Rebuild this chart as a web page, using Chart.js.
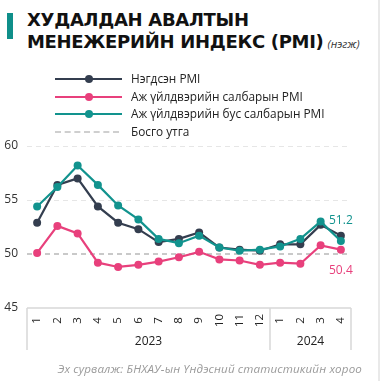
<!DOCTYPE html>
<html>
<head>
<meta charset="utf-8">
<script src="https://cdn.jsdelivr.net/npm/chart.js@4"></script>
<style>
  html, body { margin: 0; padding: 0; background: #fff; }
  body { width: 383px; height: 381px; position: relative; overflow: hidden; font-family: "Open Sans", sans-serif; }
  .frame { position: absolute; right: 3px; top: 0; bottom: 0; width: 2px; background: #e9e9e9; }
  .bar { position: absolute; left: 7px; top: 13px; width: 6px; height: 26px; background: #0f8f8a; }
  .title { position: absolute; left: 27px; top: 9px; font-family: "DejaVu Sans", sans-serif; font-weight: bold; font-size: 18px; line-height: 22px; color: #111; letter-spacing: -0.3px; white-space: nowrap; }
  .title .unit { font-family: "Open Sans", sans-serif; font-weight: normal; font-style: italic; font-size: 11px; color: #333; letter-spacing: 0; margin-left: 4px; }
  .legend { position: absolute; left: 55px; top: 70px; }
  .row { position: relative; height: 17.6px; }
  .row .ln { position: absolute; left: 0; top: 8px; width: 67px; height: 2px; }
  .row .dot { position: absolute; left: 30px; top: 5px; width: 8px; height: 8px; border-radius: 50%; }
  .row .dash { position: absolute; left: 0; top: 8px; width: 64px; border-top: 2px dashed #cfcfcf; }
  .row span { position: absolute; left: 76px; top: 0; font-size: 11.8px; line-height: 17px; color: #222; white-space: nowrap; }
  .source { position: absolute; right: 21px; top: 361px; font-size: 11.6px; letter-spacing: 0.15px; font-style: italic; color: #9a9a9a; white-space: nowrap; }
  .chart { position: absolute; left: 0; top: 0; width: 383px; height: 381px; }
</style>
</head>
<body>
<div class="frame"></div>
<div class="bar"></div>
<div class="title">ХУДАЛДАН АВАЛТЫН<br>МЕНЕЖЕРИЙН ИНДЕКС (PMI)<span class="unit">(нэгж)</span></div>
<div class="chart"><canvas id="pmi-chart"></canvas></div>
<div class="legend" id="legend"></div>
<div class="source">Эх сурвалж: БНХАУ-ын Үндэсний статистикийн хороо</div>

<script>
// Months, grouped by year underneath the axis
const months = ['1', '2', '3', '4', '5', '6', '7', '8', '9', '10', '11', '12', '1', '2', '3', '4'];
const years = [
    { label: '2023', from: 0, to: 11 },
    { label: '2024', from: 12, to: 15 }
];

// PMI series
const composite = [52.9, 56.4, 57.0, 54.4, 52.9, 52.3, 51.1, 51.4, 52.0, 50.6, 50.4, 50.3, 50.9, 50.9, 52.7, 51.7];
const manufacturing = [50.1, 52.6, 51.9, 49.2, 48.8, 49.0, 49.3, 49.7, 50.2, 49.5, 49.4, 49.0, 49.2, 49.1, 50.8, 50.4];
const nonManufacturing = [54.4, 56.2, 58.2, 56.4, 54.5, 53.2, 51.4, 51.0, 51.7, 50.6, 50.3, 50.4, 50.7, 51.4, 53.0, 51.2];
const threshold = 50;

const yTicks = [45, 50, 55, 60];

const colors = {
    composite: '#343e4f',
    manufacturing: '#e8407c',
    nonManufacturing: '#12938e',
    threshold: '#c9c9c9',
    grid: '#e6e6e6',
    box: '#d8d8d8',
    text: '#222'
};

// HTML legend
const legendItems = [
    { text: 'Нэгдсэн PMI', color: colors.composite },
    { text: 'Аж үйлдвэрийн салбарын PMI', color: colors.manufacturing },
    { text: 'Аж үйлдвэрийн бус салбарын PMI', color: colors.nonManufacturing },
    { text: 'Босго утга', dashed: true }
];
const legendEl = document.getElementById('legend');
legendItems.forEach(item => {
    const row = document.createElement('div');
    row.className = 'row';
    if (item.dashed) {
        row.innerHTML = '<div class="dash"></div>';
    } else {
        row.innerHTML = '<div class="ln" style="background:' + item.color + '"></div>' +
            '<div class="dot" style="background:' + item.color + '"></div>';
    }
    const label = document.createElement('span');
    label.textContent = item.text;
    row.appendChild(label);
    legendEl.appendChild(row);
});

// Month / year box under the plot, plus end-of-series value labels
const axisBoxPlugin = {
    id: 'axisBox',
    afterDraw(chart) {
        const ctx = chart.ctx;
        const x = chart.scales.x;
        const area = chart.chartArea;
        const half = (x.getPixelForValue(1) - x.getPixelForValue(0)) / 2;
        const boxBottom = area.bottom + 42;

        ctx.save();
        ctx.strokeStyle = colors.box;
        ctx.lineWidth = 1.5;
        ctx.beginPath();
        ctx.moveTo(area.left, area.bottom);
        ctx.lineTo(area.right, area.bottom);
        const edges = [area.left, area.right];
        years.slice(1).forEach(y => edges.push(x.getPixelForValue(y.from) - half));
        edges.forEach(px => {
            ctx.moveTo(px, area.bottom);
            ctx.lineTo(px, boxBottom);
        });
        ctx.stroke();

        // rotated month labels
        ctx.fillStyle = colors.text;
        ctx.font = '11.5px "Open Sans", sans-serif';
        ctx.textAlign = 'center';
        ctx.textBaseline = 'middle';
        months.forEach((m, i) => {
            ctx.save();
            ctx.translate(x.getPixelForValue(i), area.bottom + 12.5);
            ctx.rotate(-Math.PI / 2);
            ctx.fillText(m, 0, 0);
            ctx.restore();
        });

        // year labels
        ctx.font = '12px "Open Sans", sans-serif';
        years.forEach(y => {
            const cx = (x.getPixelForValue(y.from) + x.getPixelForValue(y.to)) / 2;
            ctx.fillText(y.label, cx, area.bottom + 34);
        });

        // last values
        ctx.font = '12px "Open Sans", sans-serif';
        chart.data.datasets.forEach((ds, di) => {
            if (ds.endLabelOffset === undefined) return;
            const meta = chart.getDatasetMeta(di);
            const last = meta.data[meta.data.length - 1];
            ctx.fillStyle = ds.borderColor;
            ctx.fillText(ds.data[ds.data.length - 1].toFixed(1), last.x, last.y + ds.endLabelOffset);
        });
        ctx.restore();
    }
};

const lineStyle = {
    borderWidth: 2.2,
    pointRadius: 4,
    pointHoverRadius: 4,
    pointBorderWidth: 0,
    tension: 0
};

new Chart(document.getElementById('pmi-chart').getContext('2d'), {
    type: 'line',
    data: {
        labels: months,
        datasets: [
            {
                label: 'Аж үйлдвэрийн бус салбарын PMI',
                data: nonManufacturing,
                borderColor: colors.nonManufacturing,
                backgroundColor: colors.nonManufacturing,
                order: 0,
                endLabelOffset: -20,
                ...lineStyle
            },
            {
                label: 'Нэгдсэн PMI',
                data: composite,
                borderColor: colors.composite,
                backgroundColor: colors.composite,
                order: 1,
                ...lineStyle
            },
            {
                label: 'Аж үйлдвэрийн салбарын PMI',
                data: manufacturing,
                borderColor: colors.manufacturing,
                backgroundColor: colors.manufacturing,
                order: 2,
                endLabelOffset: 21,
                ...lineStyle
            }
        ]
    },
    options: {
        responsive: true,
        maintainAspectRatio: false,
        devicePixelRatio: 1,
        animation: false,
        layout: { padding: { left: 0, right: 32, top: 146, bottom: 73 } },
        plugins: {
            legend: { display: false },
            tooltip: { enabled: false }
        },
        scales: {
            x: {
                type: 'category',
                offset: true,
                display: false
            },
            y: {
                min: 45,
                max: 60,
                afterFit(scale) { scale.width = 27; },
                afterBuildTicks(scale) { scale.ticks = yTicks.map(v => ({ value: v })); },
                border: { display: false, dash: [5, 4] },
                grid: {
                    drawTicks: false,
                    color: c => c.tick.value === threshold ? colors.threshold : (c.tick.value === 45 ? 'rgba(0,0,0,0)' : colors.grid),
                    lineWidth: c => c.tick.value === threshold ? 2 : 1
                },
                ticks: {
                    padding: 9,
                    color: '#333',
                    font: { size: 12, family: '"Open Sans", sans-serif' }
                }
            }
        }
    },
    plugins: [axisBoxPlugin]
});
</script>
</body>
</html>
